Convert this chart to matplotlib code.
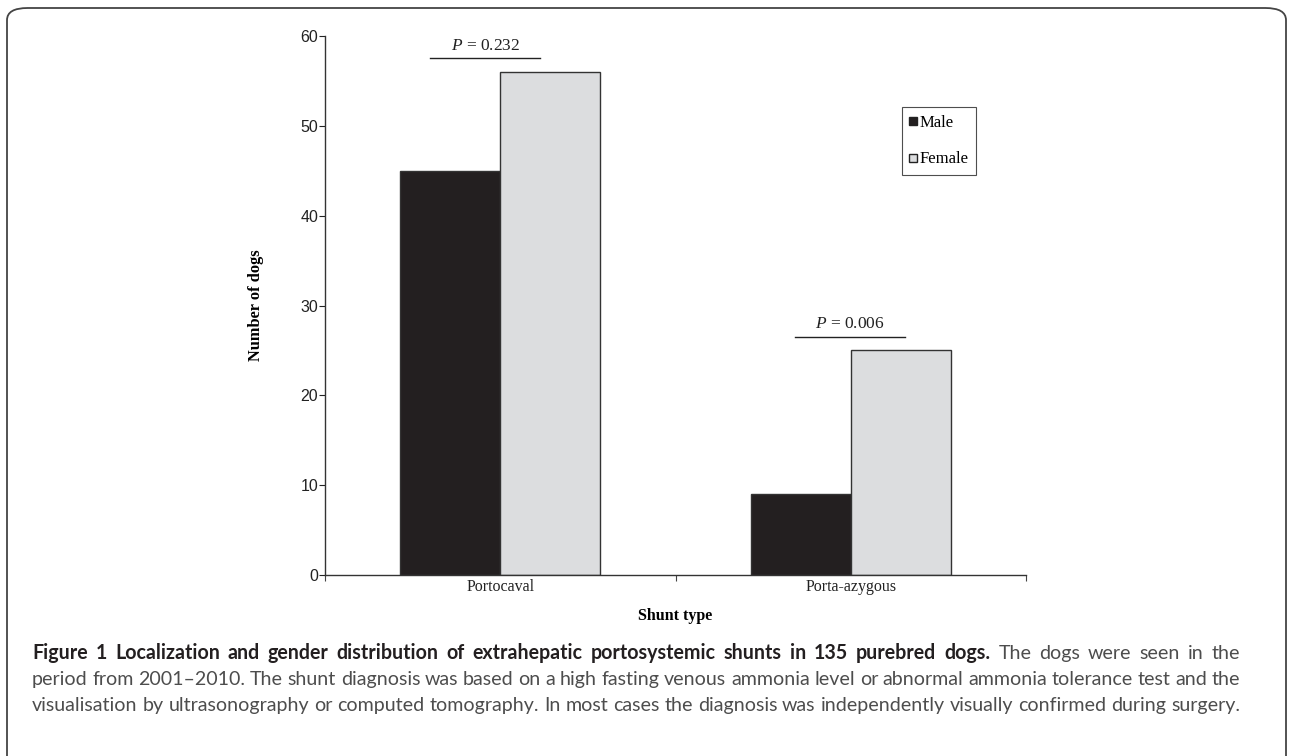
import matplotlib
matplotlib.use("Agg")
import matplotlib.pyplot as plt
import matplotlib.lines as mlines
from matplotlib.patches import FancyBboxPatch
import numpy as np

plt.rcParams["mathtext.fontset"] = "custom"
plt.rcParams["mathtext.it"] = "Liberation Serif:italic"
plt.rcParams["mathtext.rm"] = "Liberation Serif"

# data
shunt_types = ["Portocaval", "Porta-azygous"]
male = [45, 9]
female = [56, 25]
p_values = ["0.232", "0.006"]
p_line_y = [57.5, 26.5]
yticks = [0, 10, 20, 30, 40, 50, 60]

male_col = "#231f20"
female_col = "#dcdddf"
edge_col = "#333333"
serif = ["Liberation Serif", "DejaVu Serif"]
sans = ["Liberation Sans", "DejaVu Sans"]

fig = plt.figure(figsize=(12.89, 7.56), dpi=100)

# rounded frame round the whole figure
frame = FancyBboxPatch((7 / 1289, -0.05), 1279 / 1289, 1 - 8 / 756 + 0.05,
                       boxstyle="round,pad=0,rounding_size=0.016",
                       transform=fig.transFigure, fill=False,
                       edgecolor="#444444", linewidth=1.3, clip_on=False)
fig.patches.append(frame)

ax = fig.add_axes([325 / 1289, 1 - 575 / 756, 701 / 1289, 539 / 756])

x = np.arange(len(shunt_types))
w = 0.286
ax.bar(x - w / 2, male, w, color=male_col, edgecolor=edge_col, linewidth=1.0, label="Male")
ax.bar(x + w / 2, female, w, color=female_col, edgecolor=edge_col, linewidth=1.0, label="Female")

ax.set_xlim(-0.5, 1.5)
ax.set_ylim(0, 60)

# p-value brackets
p_spans = [(-0.2, 0.114), (-0.16, 0.154)]
for (x0, x1), yl, pv, xc in zip(p_spans, p_line_y, p_values, x):
    ax.plot([xc + x0, xc + x1], [yl, yl], color="#222222", lw=1.0, clip_on=False)
    ax.text(xc + (x0 + x1) / 2, yl + 0.5, r"$P$ = " + pv, ha="center", va="bottom",
            fontsize=12.5, family=serif, color="#222222")

# ticks
ax.set_yticks(yticks)
ax.tick_params(axis="y", direction="out", length=4, width=0.8, labelsize=11.5,
               colors="#222222", pad=1)
for t in ax.get_yticklabels():
    t.set_family(sans)
ax.set_xticks([-0.5, 0.5, 1.5])
ax.set_xticklabels([])
ax.set_xticks(x, minor=True)
ax.set_xticklabels(shunt_types, minor=True, family=serif, fontsize=11.5, color="#222222")
ax.tick_params(axis="x", which="major", direction="out", length=4, width=0.8, colors="#444444")
ax.tick_params(axis="x", which="minor", length=0, pad=3)

for s in ["top", "right"]:
    ax.spines[s].set_visible(False)
for s in ["left", "bottom"]:
    ax.spines[s].set_color("#333333")
    ax.spines[s].set_linewidth(1.0)

ax.set_ylabel("Number of dogs", family=serif, fontweight="bold", fontsize=11.8, labelpad=26)
ax.set_xlabel("Shunt type", family=serif, fontweight="bold", fontsize=11.5, labelpad=9)

# legend
handles = [
    mlines.Line2D([], [], marker="s", ls="none", markerfacecolor=male_col,
                  markeredgecolor="#222222", markersize=5.5, label="Male"),
    mlines.Line2D([], [], marker="s", ls="none", markerfacecolor=female_col,
                  markeredgecolor="#222222", markersize=5.5, label="Female"),
]
leg = ax.legend(handles=handles, loc="upper left", bbox_to_anchor=(0.823, 0.868),
                borderaxespad=0, prop={"family": serif, "size": 12},
                handlelength=0.45, handletextpad=0.15, labelspacing=1.25,
                borderpad=0.45, frameon=True, fancybox=False)
leg.get_frame().set_edgecolor("#222222")
leg.get_frame().set_linewidth(0.8)

# caption, justified word by word between x=32 and x=1240
cap_font = ["Lato", "DejaVu Sans"]
bold_txt = "Figure 1 Localization and gender distribution of extrahepatic portosystemic shunts in 135 purebred dogs."
line1 = "The dogs were seen in the"
line2 = ("period from 2001\u20132010. The shunt diagnosis was based on a high fasting venous ammonia level "
         "or abnormal ammonia tolerance test and the")
line3 = ("visualisation by ultrasonography or computed tomography. In most cases the diagnosis was "
         "independently visually confirmed during surgery.")
cap_lines = [
    [(wd, "bold", "#231f20") for wd in bold_txt.split()] + [(wd, "normal", "#4d4d4d") for wd in line1.split()],
    [(wd, "normal", "#4d4d4d") for wd in line2.split()],
    [(wd, "normal", "#4d4d4d") for wd in line3.split()],
]
cap_base = [659, 685, 711]   # baselines, pixels from top
x_left, x_right = 32, 1240
rend = fig.canvas.get_renderer()
W = fig.bbox.width

size = 12.0
p1 = fig.text(0, 0, "a b", fontsize=size, family=cap_font)
p2 = fig.text(0, 0, "ab", fontsize=size, family=cap_font)
space_w = p1.get_window_extent(rend).width - p2.get_window_extent(rend).width
p1.remove()
p2.remove()

all_rows = []
natural = []
for words, yp in zip(cap_lines, cap_base):
    arts = [fig.text(0, 1 - yp / 756, wd, fontsize=size, fontweight=wt, family=cap_font,
                     color=c, va="baseline", ha="left") for wd, wt, c in words]
    widths = [a.get_window_extent(rend).width for a in arts]
    all_rows.append((arts, widths))
    natural.append(sum(widths) + space_w * (len(widths) - 1))
scale = (x_right - x_left) / max(natural)
for arts, widths in all_rows:
    for a in arts:
        a.set_fontsize(size * scale)
    widths[:] = [a.get_window_extent(rend).width for a in arts]
    gap = ((x_right - x_left) - sum(widths)) / (len(arts) - 1)
    xp = x_left
    for a, wd in zip(arts, widths):
        a.set_x(xp / W)
        xp += wd + gap

fig.savefig("out.png", dpi=100)
